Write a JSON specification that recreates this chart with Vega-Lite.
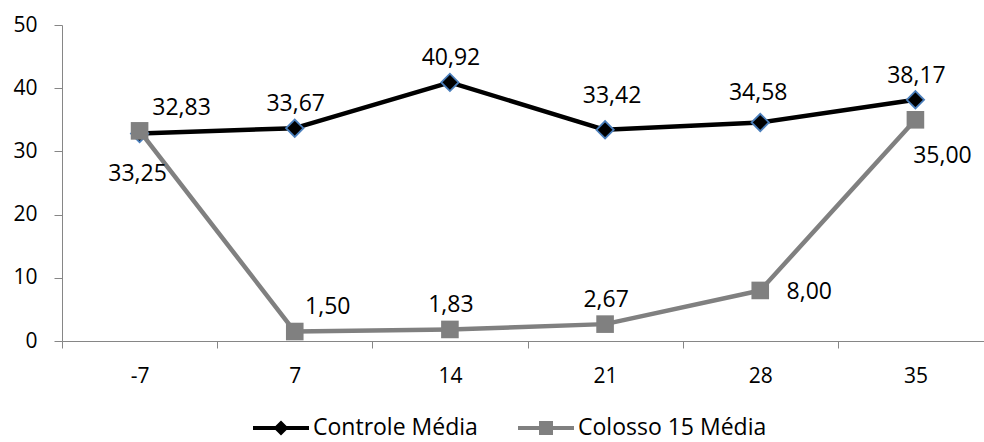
{
  "$schema": "https://vega.github.io/schema/vega-lite/v6.json",
  "width": 922,
  "height": 316,
  "autosize": {"type": "none"},
  "padding": {"left": 62, "top": 25, "right": 0, "bottom": 101},
  "background": "white",
  "config": {
    "view": {"stroke": null},
    "font": "Open Sans",
    "locale": {"number": {"decimal": ",", "thousands": ".", "grouping": [3], "currency": ["", " €"]}},
    "axis": {"labelFont": "Open Sans", "labelFontSize": 21, "labelColor": "#000000", "domainColor": "#868686", "tickColor": "#868686", "grid": false, "title": null}
  },
  "data": {"values": [
    {"dia": "-7", "serie": "Controle Média", "valor": 32.83},
    {"dia": "7", "serie": "Controle Média", "valor": 33.67},
    {"dia": "14", "serie": "Controle Média", "valor": 40.92},
    {"dia": "21", "serie": "Controle Média", "valor": 33.42},
    {"dia": "28", "serie": "Controle Média", "valor": 34.58},
    {"dia": "35", "serie": "Controle Média", "valor": 38.17},
    {"dia": "-7", "serie": "Colosso 15 Média", "valor": 33.25},
    {"dia": "7", "serie": "Colosso 15 Média", "valor": 1.50},
    {"dia": "14", "serie": "Colosso 15 Média", "valor": 1.83},
    {"dia": "21", "serie": "Colosso 15 Média", "valor": 2.67},
    {"dia": "28", "serie": "Colosso 15 Média", "valor": 8.00},
    {"dia": "35", "serie": "Colosso 15 Média", "valor": 35.00}
  ]},
  "encoding": {
    "x": {"field": "dia", "type": "ordinal", "sort": ["-7", "7", "14", "21", "28", "35"],
      "scale": {"type": "band", "paddingInner": 0, "paddingOuter": 0, "range": [0, 931]},
      "axis": {"labelAngle": 0, "tickBand": "extent", "tickSize": 7, "labelPadding": 17}},
    "y": {"field": "valor", "type": "quantitative", "scale": {"domain": [0, 50]},
      "axis": {"values": [0, 10, 20, 30, 40, 50], "tickSize": 8, "labelPadding": 17}}
  },
  "layer": [
    {
      "mark": {"type": "line", "strokeWidth": 4.5, "strokeJoin": "round"},
      "encoding": {
        "color": {"field": "serie", "type": "nominal",
          "scale": {"domain": ["Controle Média", "Colosso 15 Média"], "range": ["#000000", "#808080"]},
          "legend": {
            "orient": "none", "legendX": 191, "legendY": 375, "direction": "horizontal", "title": null,
            "padding": 0, "symbolSize": 3136, "symbolStrokeWidth": 0,
            "labelFont": "Open Sans", "labelFontSize": 23, "labelColor": "#000000", "labelOffset": 4, "labelLimit": 400, "columnPadding": 40,
            "encode": {"symbols": {"update": {
              "fill": {"scale": "color", "field": "value"},
              "strokeWidth": {"value": 0},
              "shape": {"signal": "datum.value == 'Controle Média' ? 'M-1,-0.075H1V0.075H-1Z M0,-0.27L0.27,0L0,0.27L-0.27,0Z' : 'M-1,-0.075H1V0.075H-1Z M-0.25,-0.25H0.25V0.25H-0.25Z'"}
            }}}
          }}
      }
    },
    {
      "transform": [{"filter": "datum.serie == 'Controle Média'"}],
      "mark": {"type": "point", "shape": "diamond", "filled": true, "fill": "#000000", "stroke": "#4A7EBB", "strokeWidth": 1.8, "size": 300, "opacity": 1}
    },
    {
      "transform": [{"filter": "datum.serie == 'Colosso 15 Média'"}],
      "mark": {"type": "square", "size": 310, "color": "#808080", "opacity": 1}
    },
    {
      "transform": [{"filter": "(datum.serie == 'Controle Média' && indexof(['7','14','35'], datum.dia) >= 0) || (datum.serie == 'Colosso 15 Média' && indexof(['14','21'], datum.dia) >= 0)"}],
      "mark": {"type": "text", "font": "Open Sans", "fontSize": 23, "color": "#000000", "align": "center", "baseline": "middle", "dx": 1, "dy": -24},
      "encoding": {"text": {"field": "valor", "type": "quantitative", "format": ".2f"}}
    },
    {
      "transform": [{"filter": "datum.serie == 'Controle Média' && datum.dia == '21'"}],
      "mark": {"type": "text", "font": "Open Sans", "fontSize": 23, "color": "#000000", "align": "center", "baseline": "middle", "dx": 7, "dy": -34},
      "encoding": {"text": {"field": "valor", "type": "quantitative", "format": ".2f"}}
    },
    {
      "transform": [{"filter": "datum.serie == 'Controle Média' && datum.dia == '28'"}],
      "mark": {"type": "text", "font": "Open Sans", "fontSize": 23, "color": "#000000", "align": "center", "baseline": "middle", "dx": -2, "dy": -29},
      "encoding": {"text": {"field": "valor", "type": "quantitative", "format": ".2f"}}
    },
    {
      "transform": [{"filter": "datum.serie == 'Controle Média' && datum.dia == '-7'"}],
      "mark": {"type": "text", "font": "Open Sans", "fontSize": 23, "color": "#000000", "align": "center", "baseline": "middle", "dx": 42, "dy": -26},
      "encoding": {"text": {"field": "valor", "type": "quantitative", "format": ".2f"}}
    },
    {
      "transform": [{"filter": "datum.serie == 'Colosso 15 Média' && datum.dia == '-7'"}],
      "mark": {"type": "text", "font": "Open Sans", "fontSize": 23, "color": "#000000", "align": "center", "baseline": "middle", "dx": -2, "dy": 43},
      "encoding": {"text": {"field": "valor", "type": "quantitative", "format": ".2f"}}
    },
    {
      "transform": [{"filter": "datum.serie == 'Colosso 15 Média' && datum.dia == '7'"}],
      "mark": {"type": "text", "font": "Open Sans", "fontSize": 23, "color": "#000000", "align": "center", "baseline": "middle", "dx": 33, "dy": -25},
      "encoding": {"text": {"field": "valor", "type": "quantitative", "format": ".2f"}}
    },
    {
      "transform": [{"filter": "datum.serie == 'Colosso 15 Média' && datum.dia == '28'"}],
      "mark": {"type": "text", "font": "Open Sans", "fontSize": 23, "color": "#000000", "align": "center", "baseline": "middle", "dx": 49, "dy": 2},
      "encoding": {"text": {"field": "valor", "type": "quantitative", "format": ".2f"}}
    },
    {
      "transform": [{"filter": "datum.serie == 'Colosso 15 Média' && datum.dia == '35'"}],
      "mark": {"type": "text", "font": "Open Sans", "fontSize": 23, "color": "#000000", "align": "center", "baseline": "middle", "dx": 27, "dy": 36},
      "encoding": {"text": {"field": "valor", "type": "quantitative", "format": ".2f"}}
    }
  ]
}
